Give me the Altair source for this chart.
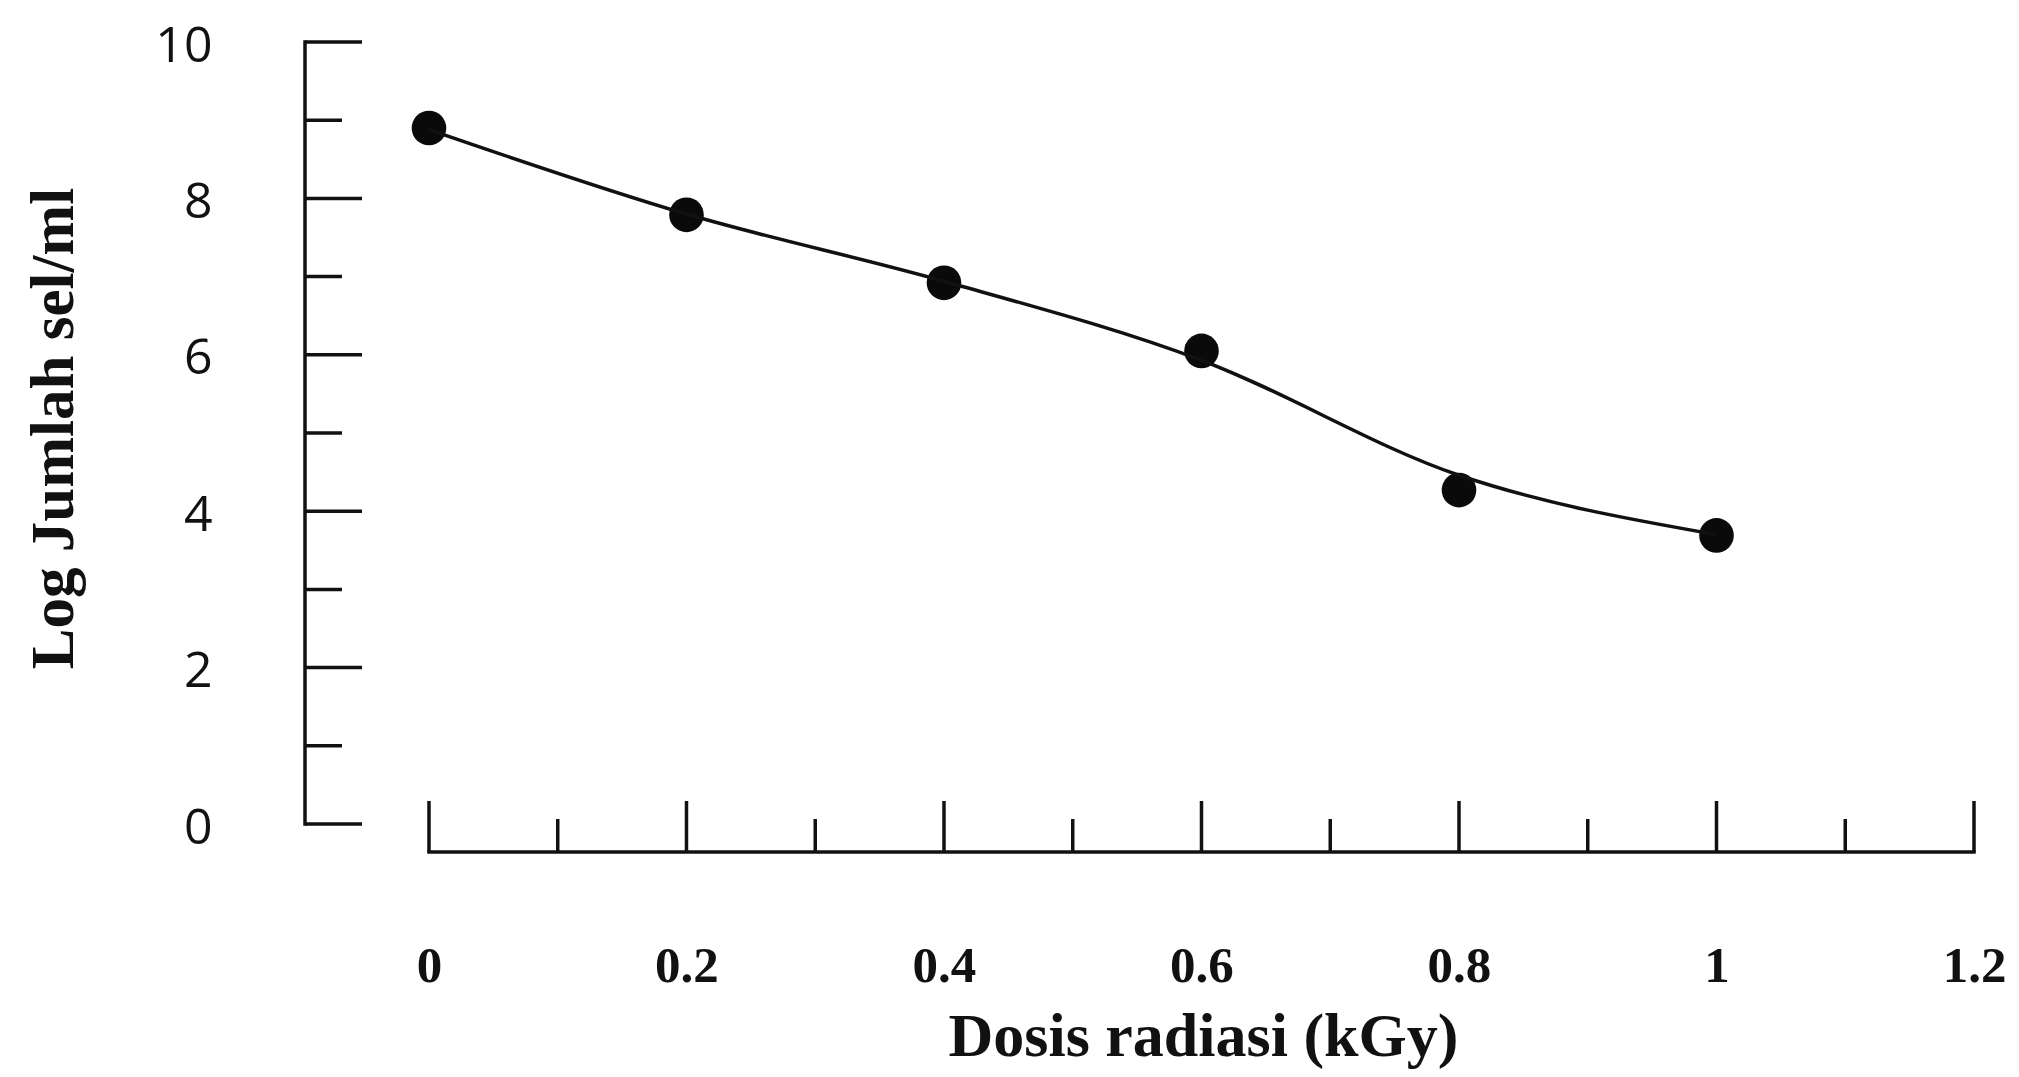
import altair as alt
import pandas as pd

# ---- data ----
dose = [0.0, 0.2, 0.4, 0.6, 0.8, 1.0]
log_cells = [8.90, 7.79, 6.92, 6.05, 4.27, 3.69]
curve_dose = [0.0, 0.2, 0.4, 0.6, 0.8, 1.0]
curve_log = [8.88, 7.80, 6.94, 5.93, 4.46, 3.70]
y_major = [0, 2, 4, 6, 8, 10]
y_minor = [1, 3, 5, 7, 9]
x_major = [0.0, 0.2, 0.4, 0.6, 0.8, 1.0, 1.2]
x_minor = [0.1, 0.3, 0.5, 0.7, 0.9, 1.1]
x_title = "Dosis radiasi (kGy)"
y_title = "Log Jumlah sel/ml"

W, H = 1669, 810
INK = "#111111"

x_scale = alt.Scale(domain=[-0.0963, 1.2], nice=False, zero=False)
y_scale = alt.Scale(domain=[-0.358, 10], nice=False, zero=False)

x_axis = alt.Axis(
    values=x_major, format="~g", domain=False, ticks=False, grid=False,
    labelFont="Liberation Serif", labelFontWeight="bold", labelFontSize=51,
    labelColor=INK, labelPadding=89, labelFlush=False, labelOverlap=False,
    title=x_title, titleFont="Liberation Serif", titleFontWeight="bold",
    titleFontSize=62, titleColor=INK, titleX=898, titleY=184,
    titleBaseline="middle", titleAlign="center",
)
y_axis = alt.Axis(
    values=y_major, format="d", domain=False, ticks=False, grid=False,
    labelFont="Open Sans", labelFontSize=50, labelColor=INK,
    labelPadding=93, labelOffset=4, labelFlush=False, labelOverlap=False,
    title=y_title, titleFont="Liberation Serif", titleFontWeight="bold",
    titleFontSize=61, titleColor=INK, titleX=-251, titleY=386,
    titleAngle=270, titleBaseline="middle", titleAlign="center",
)

pts = pd.DataFrame({"dose": dose, "log": log_cells})
crv = pd.DataFrame({"dose": curve_dose, "log": curve_log})

def X(field):
    return alt.X(field, scale=x_scale, axis=x_axis)

def Y(field):
    return alt.Y(field, scale=y_scale, axis=y_axis)

points = alt.Chart(pts).mark_point(
    filled=True, shape="circle", size=1200, color="#0a0a0a", opacity=1
).encode(x=X("dose:Q"), y=Y("log:Q"))

line = alt.Chart(crv).mark_line(
    interpolate="monotone", color=INK, strokeWidth=3.5
).encode(x=X("dose:Q"), y=Y("log:Q"))

# y axis line and inward ticks
y_dom = alt.Chart(pd.DataFrame({"a": [y_major[0]], "b": [y_major[-1]]})).mark_rule(
    color=INK, strokeWidth=3.5, strokeCap="square"
).encode(y=Y("a:Q"), y2="b:Q", x=alt.value(0))
y_maj = alt.Chart(pd.DataFrame({"v": y_major})).mark_rule(
    color=INK, strokeWidth=3.5
).encode(y=Y("v:Q"), x=alt.value(0), x2=alt.value(57))
y_min = alt.Chart(pd.DataFrame({"v": y_minor})).mark_rule(
    color=INK, strokeWidth=3.5
).encode(y=Y("v:Q"), x=alt.value(0), x2=alt.value(37))

# x axis line and inward ticks
x_dom = alt.Chart(pd.DataFrame({"a": [x_major[0]], "b": [x_major[-1]]})).mark_rule(
    color=INK, strokeWidth=3.5, strokeCap="square"
).encode(x=X("a:Q"), x2="b:Q", y=alt.value(H))
x_maj = alt.Chart(pd.DataFrame({"v": x_major})).mark_rule(
    color=INK, strokeWidth=3.5
).encode(x=X("v:Q"), y=alt.value(H), y2=alt.value(H - 51))
x_min = alt.Chart(pd.DataFrame({"v": x_minor})).mark_rule(
    color=INK, strokeWidth=3.5
).encode(x=X("v:Q"), y=alt.value(H), y2=alt.value(H - 33))

chart = alt.layer(
    points, line, y_dom, y_maj, y_min, x_dom, x_maj, x_min
).properties(
    width=W, height=H,
    padding={"left": 297, "top": 34, "right": 37, "bottom": 225},
    autosize=alt.AutoSizeParams(type="none"),
    background="white",
).configure_view(stroke=None)

chart.save("out.html", embed_options={"renderer": "svg", "actions": False})
